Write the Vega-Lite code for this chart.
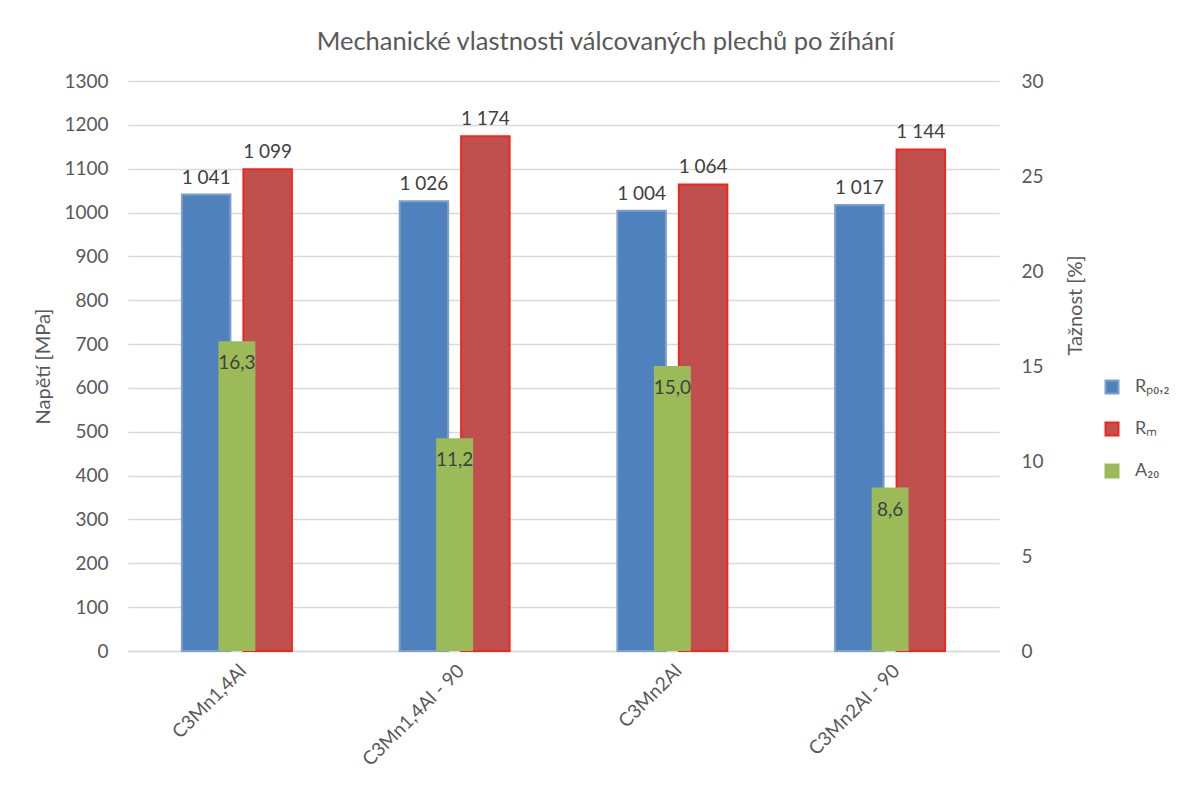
{
  "$schema": "https://vega.github.io/schema/vega-lite/v6.json",
  "width": 871,
  "height": 570,
  "autosize": {"type": "none"},
  "padding": {"left": 128, "top": 81, "right": 191, "bottom": 140},
  "background": "white",
  "config": {
    "locale": {
      "number": {"decimal": ",", "thousands": "\u00a0", "grouping": [3], "currency": ["", " Kč"]}
    },
    "font": "Lato",
    "view": {"stroke": null},
    "axis": {
      "labelFont": "Lato",
      "labelFontSize": 19,
      "labelColor": "#595959",
      "titleFont": "Lato",
      "titleFontSize": 20,
      "titleColor": "#595959",
      "titleFontWeight": "normal",
      "ticks": false,
      "domain": false,
      "gridColor": "#D9D9D9",
      "gridWidth": 1.3
    },
    "legend": {
      "labelFont": "Lato",
      "labelFontSize": 18,
      "labelColor": "#595959"
    }
  },
  "title": {
    "text": "Mechanické vlastnosti válcovaných plechů po žíhání",
    "font": "Lato",
    "fontSize": 25.5,
    "fontWeight": "normal",
    "color": "#595959",
    "anchor": "middle",
    "dx": 42,
    "offset": 17
  },
  "data": {
    "values": [
      {"vzorek": "C3Mn1,4Al", "velicina": "Rₚ₀,₂", "hodnota": 1041},
      {"vzorek": "C3Mn1,4Al", "velicina": "Rₘ", "hodnota": 1099},
      {"vzorek": "C3Mn1,4Al", "velicina": "A₂₀", "hodnota": 16.3},
      {"vzorek": "C3Mn1,4Al - 90", "velicina": "Rₚ₀,₂", "hodnota": 1026},
      {"vzorek": "C3Mn1,4Al - 90", "velicina": "Rₘ", "hodnota": 1174},
      {"vzorek": "C3Mn1,4Al - 90", "velicina": "A₂₀", "hodnota": 11.2},
      {"vzorek": "C3Mn2Al", "velicina": "Rₚ₀,₂", "hodnota": 1004},
      {"vzorek": "C3Mn2Al", "velicina": "Rₘ", "hodnota": 1064},
      {"vzorek": "C3Mn2Al", "velicina": "A₂₀", "hodnota": 15.0},
      {"vzorek": "C3Mn2Al - 90", "velicina": "Rₚ₀,₂", "hodnota": 1017},
      {"vzorek": "C3Mn2Al - 90", "velicina": "Rₘ", "hodnota": 1144},
      {"vzorek": "C3Mn2Al - 90", "velicina": "A₂₀", "hodnota": 8.6}
    ]
  },
  "encoding": {
    "x": {
      "field": "vzorek",
      "type": "nominal",
      "sort": null,
      "scale": {"paddingInner": 0.495, "paddingOuter": 0.2477},
      "axis": {
        "title": null,
        "labelAngle": -45,
        "labelPadding": 10,
        "domain": true,
        "domainColor": "#D9D9D9",
        "domainWidth": 1.3
      }
    }
  },
  "layer": [
    {
      "transform": [{"filter": "datum.velicina !== 'A₂₀'"}],
      "encoding": {
        "y": {
          "field": "hodnota",
          "type": "quantitative",
          "scale": {"domain": [0, 1300], "nice": false},
          "axis": {
            "title": "Napětí [MPa]",
            "values": [0, 100, 200, 300, 400, 500, 600, 700, 800, 900, 1000, 1100, 1200, 1300],
            "format": "d",
            "labelPadding": 20,
            "titlePadding": 10
          }
        },
        "xOffset": {
          "field": "velicina",
          "type": "nominal",
          "sort": ["Rₚ₀,₂", "Rₘ"],
          "scale": {"paddingInner": 0.211, "paddingOuter": 0}
        }
      },
      "layer": [
        {
          "mark": {"type": "bar", "strokeWidth": 2},
          "encoding": {
            "color": {
              "field": "velicina",
              "type": "nominal",
              "scale": {"domain": ["Rₚ₀,₂", "Rₘ", "A₂₀"], "range": ["#4F81BD", "#C0504D", "#9BBB59"]},
              "legend": {
                "title": null,
                "orient": "none",
                "legendX": 975,
                "legendY": 297,
                "symbolType": "square",
                "symbolSize": 169,
                "symbolStrokeWidth": 2,
                "rowPadding": 20,
                "labelOffset": 14
              }
            },
            "stroke": {
              "field": "velicina",
              "type": "nominal",
              "scale": {"domain": ["Rₚ₀,₂", "Rₘ", "A₂₀"], "range": ["#7D9FCB", "#F2261B", "#9BBB59"]},
              "legend": {
                "title": null,
                "orient": "none",
                "legendX": 975,
                "legendY": 297,
                "symbolType": "square",
                "symbolSize": 169,
                "symbolStrokeWidth": 2,
                "rowPadding": 20,
                "labelOffset": 14
              }
            }
          }
        },
        {
          "mark": {"type": "text", "baseline": "alphabetic", "dy": -11, "fontSize": 19, "color": "#404040", "font": "Lato"},
          "encoding": {
            "text": {"field": "hodnota", "type": "quantitative", "format": ",.0f"}
          }
        }
      ]
    },
    {
      "transform": [{"filter": "datum.velicina === 'A₂₀'"}],
      "encoding": {
        "y": {
          "field": "hodnota",
          "type": "quantitative",
          "scale": {"domain": [0, 30], "nice": false},
          "axis": {
            "orient": "right",
            "title": "Tažnost [%]",
            "titleAngle": 270,
            "titleY": 224,
            "values": [0, 5, 10, 15, 20, 25, 30],
            "grid": false,
            "labelPadding": 22,
            "titlePadding": 42
          }
        }
      },
      "layer": [
        {
          "mark": {"type": "bar", "width": {"band": 0.336}},
          "encoding": {
            "color": {"field": "velicina", "type": "nominal"}
          }
        },
        {
          "mark": {"type": "text", "baseline": "middle", "dy": 22, "fontSize": 19, "color": "#404040", "font": "Lato"},
          "encoding": {
            "text": {"field": "hodnota", "type": "quantitative", "format": ".1f"}
          }
        }
      ]
    }
  ],
  "resolve": {"scale": {"y": "independent"}}
}
